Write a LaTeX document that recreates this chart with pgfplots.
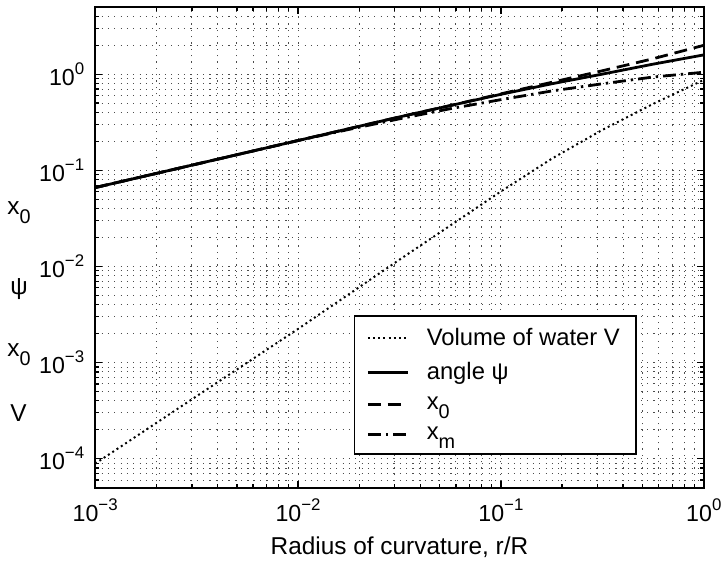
\documentclass[border=0pt]{standalone}
\usepackage{fontspec}
\setmainfont{Liberation Sans}
\usepackage{pgfplots}
\pgfplotsset{compat=1.18}
\newcommand{\sub}[1]{\raisebox{-4.5pt}{\fontsize{10}{10}\selectfont #1}}
\newcommand{\sups}[1]{\raisebox{5.5pt}{\fontsize{8.5}{8.5}\selectfont #1}}

\pgfplotstableread{
x y
0.001 8.9e-5
0.00316 4.47e-4
0.01 2.24e-3
0.0316 0.01175
0.1 0.0603
0.178 0.132
0.316 0.263
0.562 0.49
1.0 0.871
}\volV

\pgfplotstableread{
x y
0.001 0.0661
0.00316 0.116
0.01 0.204
0.0316 0.359
0.1 0.617
0.178 0.794
0.316 1.0
0.562 1.27
1.0 1.585
}\psidata

\pgfplotstableread{
x y
0.001 0.0661
0.00316 0.116
0.01 0.204
0.0316 0.359
0.0562 0.471
0.1 0.624
0.178 0.822
0.316 1.084
0.562 1.445
1.0 1.995
}\xzero

\pgfplotstableread{
x y
0.001 0.0661
0.00316 0.116
0.01 0.204
0.0178 0.266
0.0316 0.343
0.0562 0.437
0.1 0.543
0.178 0.668
0.316 0.794
0.562 0.933
1.0 1.047
}\xm

\begin{document}
\begin{tikzpicture}
\begin{axis}[name=ax, xmode=log, ymode=log, scale only axis,
  width=307pt, height=242.5pt,
  xmin=1e-3, xmax=1, ymin=5e-5, ymax=5,
  clip=false,
  xtick={0.001,0.01,0.1,1},
  xticklabels={10\sups{−3},10\sups{−2},10\sups{−1},10\sups{0}},
  ytick={1e-4,1e-3,1e-2,1e-1,1},
  yticklabels={10\sups{−4},10\sups{−3},10\sups{−2},10\sups{−1},10\sups{0}},
  minor xtick={0.002,0.003,0.004,0.005,0.006,0.007,0.008,0.009,0.02,0.03,0.04,0.05,0.06,0.07,0.08,0.09,0.2,0.3,0.4,0.5,0.6,0.7,0.8,0.9},
  minor ytick={6e-5,7e-5,8e-5,9e-5,2e-4,3e-4,4e-4,5e-4,6e-4,7e-4,8e-4,9e-4,2e-3,3e-3,4e-3,5e-3,6e-3,7e-3,8e-3,9e-3,0.02,0.03,0.04,0.05,0.06,0.07,0.08,0.09,0.2,0.3,0.4,0.5,0.6,0.7,0.8,0.9,2,3,4},
  tick label style={font=\fontsize{11.7}{14}\selectfont},
  yticklabel style={xshift=-2pt},
  xticklabel style={yshift=-2pt},
  grid=both,
  major grid style={black!70, line width=0.5pt, dash pattern=on 0.6pt off 2.6pt},
  minor grid style={black!70, line width=0.5pt, dash pattern=on 0.6pt off 2.6pt},
  tick align=inside, major tick length=3.5pt, minor tick length=2pt,
  every tick/.style={black, line width=0.6pt},
  axis line style={line width=1pt},
  xlabel={Radius of curvature, r/R},
  xlabel style={font=\fontsize{12.3}{14}\selectfont, yshift=-1pt},
  legend style={at={(0.425,0.359)}, anchor=north west, draw=black, line width=0.8pt,
    font=\fontsize{12}{13}\selectfont, row sep=3.2pt, inner xsep=6pt, inner ysep=4pt,
    cells={anchor=west}},
  legend cell align=left,
  legend image code/.code={\draw[#1] (0pt,0pt) -- (20pt,0pt); \path (27pt,0pt);},
]
\addplot[black, line width=1pt, dash pattern=on 1pt off 1.6pt] table[x=x,y=y] {\volV};
\addlegendentry{Volume of water V}
\addplot[black, line width=1.4pt] table[x=x,y=y] {\psidata};
\addlegendentry{angle ψ}
\addplot[black, line width=1.4pt, dash pattern=on 6.5pt off 3.5pt] table[x=x,y=y] {\xzero};
\addlegendentry{x\sub{0}}
\addplot[black, line width=1.4pt, dash pattern=on 6.5pt off 2.5pt on 1.2pt off 2.5pt] table[x=x,y=y] {\xm};
\addlegendentry{x\sub{m}}
\end{axis}
\begin{scope}[font=\fontsize{12.3}{14}\selectfont]
\path (ax.south west) ++(-44.5pt,138pt) node[anchor=base west, inner sep=0pt] {x\sub{0}};
\path (ax.south west) ++(-43pt,97.5pt) node[anchor=base west, inner sep=0pt] {ψ};
\path (ax.south west) ++(-44.5pt,66pt) node[anchor=base west, inner sep=0pt] {x\sub{0}};
\path (ax.south west) ++(-43pt,33.5pt) node[anchor=base west, inner sep=0pt] {V};
\end{scope}
\path (ax.south west) ++(-48pt,-39pt);
\path (ax.north east) ++(9pt,3.5pt);
\end{tikzpicture}
\end{document}
